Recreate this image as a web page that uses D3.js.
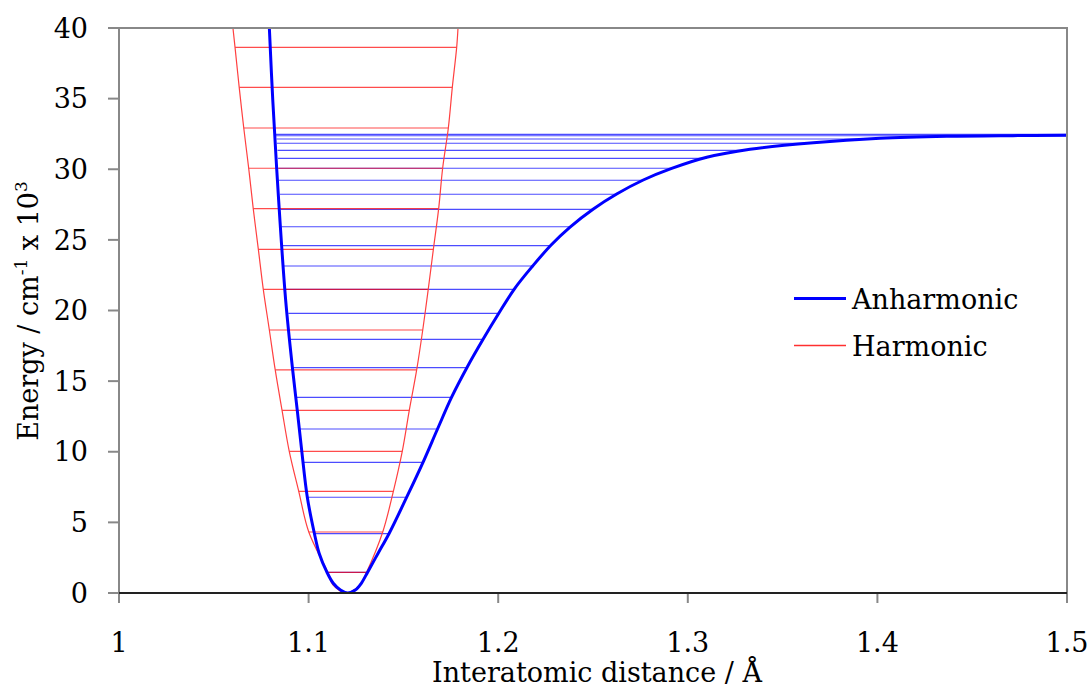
<!DOCTYPE html>
<html>
<head>
<meta charset="utf-8">
<script src="https://cdn.jsdelivr.net/npm/d3@7"></script>
<style>
    body { margin: 0; background: #fff; }
    svg { display: block; font-family: "DejaVu Serif", serif; }
</style>
</head>
<body>
<svg id="chart"></svg>
<script>
// Anharmonic (Morse) potential: distance in Å, energy in 10^3 cm-1
const morseX = [1.0793, 1.0811, 1.0842, 1.0879, 1.0916, 1.0940, 1.0964, 1.0993, 1.1030, 1.1056, 1.1096, 1.1130, 1.1168, 1.1206,
    1.1246, 1.1278, 1.1312, 1.1366, 1.1426, 1.1518, 1.1604, 1.1680, 1.1755, 1.1834, 1.1921, 1.2004, 1.2085, 1.2182,
    1.2279, 1.2379, 1.2502, 1.2625, 1.2765, 1.2915, 1.3100, 1.3328, 1.3662, 1.4014, 1.4366, 1.4715, 1.5];
const morseE = [40.0, 34.90, 27.82, 20.74, 15.79, 12.96, 10.05, 6.80, 4.25, 2.80, 1.49, 0.69, 0.21, 0,
    0.21, 0.69, 1.49, 2.80, 4.25, 6.80, 9.27, 11.61, 13.88, 15.93, 17.98, 19.82, 21.52, 23.15,
    24.64, 25.91, 27.19, 28.25, 29.24, 30.06, 30.85, 31.42, 31.88, 32.19, 32.33, 32.38, 32.40];

// Harmonic parabola
const harmX = [1.0601, 1.0612, 1.0634, 1.0658, 1.0684, 1.0708, 1.0735, 1.0761, 1.0793, 1.0824, 1.0860, 1.0898,
    1.0948, 1.1001, 1.1101, 1.1127, 1.1200, 1.1273, 1.1306, 1.1391, 1.1447, 1.1494, 1.1531, 1.1570,
    1.1602, 1.1631, 1.1658, 1.1686, 1.1707, 1.1737, 1.1758, 1.1781, 1.1788];
const harmE = [40.0, 38.63, 35.80, 32.92, 30.07, 27.21, 24.33, 21.50, 18.62, 15.79, 12.93, 10.03,
    7.20, 4.32, 1.466, 0.6, 0, 0.6, 1.466, 4.32, 7.20, 10.03, 12.93, 15.79,
    18.62, 21.50, 24.33, 27.21, 30.07, 32.92, 35.80, 38.63, 40.0];

// Vibrational levels of the anharmonic oscillator (energy, left end, right end)
const anhLevels = [1.466, 4.20, 6.78, 9.25, 11.61, 13.85, 15.95, 17.96, 19.80, 21.50, 23.15, 24.59,
    25.93, 27.16, 28.23, 29.22, 30.07, 30.77, 31.34, 31.84, 32.14, 32.37, 32.47];
const anhLeft = [1.1096, 1.1030, 1.0993, 1.0967, 1.0951, 1.0932, 1.0916, 1.0902, 1.0893, 1.0878, 1.0870, 1.0862,
    1.0857, 1.0852, 1.0849, 1.0844, 1.0841, 1.0839, 1.0836, 1.0833, 1.0831, 1.0828, 1.0828];
const anhRight = [1.1310, 1.1424, 1.1516, 1.1602, 1.1679, 1.1755, 1.1834, 1.1921, 1.2004, 1.2085, 1.2182, 1.2278,
    1.2379, 1.2502, 1.2625, 1.2765, 1.2915, 1.3100, 1.3302, 1.3608, 1.3945, 1.5, 1.5];

// Levels of the harmonic oscillator
const harmLevels = [1.466, 4.32, 7.20, 10.03, 12.93, 15.79, 18.62, 21.50, 24.33, 27.21, 30.07, 32.92, 35.80, 38.63];
const harmLeft = [1.1101, 1.1001, 1.0948, 1.0898, 1.0860, 1.0824, 1.0793, 1.0761, 1.0735, 1.0708, 1.0684, 1.0658, 1.0634, 1.0612];
const harmRight = [1.1306, 1.1391, 1.1447, 1.1494, 1.1531, 1.1570, 1.1602, 1.1631, 1.1658, 1.1686, 1.1707, 1.1737, 1.1758, 1.1781];

const xTicks = [1, 1.1, 1.2, 1.3, 1.4, 1.5];
const yTicks = [0, 5, 10, 15, 20, 25, 30, 35, 40];

const width = 1088, height = 689;
const margin = { top: 28, right: 21, bottom: 96, left: 119 };

const svg = d3.select('#chart')
    .attr('width', width)
    .attr('height', height);

const x = d3.scaleLinear().domain([1, 1.5]).range([margin.left, width - margin.right]);
const y = d3.scaleLinear().domain([0, 40]).range([height - margin.bottom, margin.top]);

// Clip everything to the plot area
svg.append('defs').append('clipPath').attr('id', 'plot-clip')
    .append('rect')
    .attr('x', x(1)).attr('y', y(40))
    .attr('width', x(1.5) - x(1)).attr('height', y(0) - y(40));

const plot = svg.append('g').attr('clip-path', 'url(#plot-clip)');

// Anharmonic levels
plot.append('g')
    .selectAll('line')
    .data(anhLevels)
    .enter().append('line')
    .attr('x1', (d, i) => x(anhLeft[i]))
    .attr('x2', (d, i) => x(anhRight[i]))
    .attr('y1', d => y(d))
    .attr('y2', d => y(d))
    .attr('stroke', '#0000ff')
    .attr('stroke-opacity', 0.7)
    .attr('stroke-width', 1.2);

// Harmonic levels
plot.append('g')
    .selectAll('line')
    .data(harmLevels)
    .enter().append('line')
    .attr('x1', (d, i) => x(harmLeft[i]))
    .attr('x2', (d, i) => x(harmRight[i]))
    .attr('y1', d => y(d))
    .attr('y2', d => y(d))
    .attr('stroke', '#ff0000')
    .attr('stroke-opacity', 0.7)
    .attr('stroke-width', 1.2);

const line = d3.line()
    .x(d => x(d[0]))
    .y(d => y(d[1]))
    .curve(d3.curveCatmullRom.alpha(0.5));

// Harmonic parabola
plot.append('path')
    .datum(d3.zip(harmX, harmE))
    .attr('d', line)
    .attr('fill', 'none')
    .attr('stroke', '#ff4040')
    .attr('stroke-width', 1.2);

// Morse curve
plot.append('path')
    .datum(d3.zip(morseX, morseE))
    .attr('d', line)
    .attr('fill', 'none')
    .attr('stroke', '#0000ff')
    .attr('stroke-width', 3);

// Plot frame (top, right, left in grey)
svg.append('path')
    .attr('d', `M${x(1)},${y(0)}V${y(40)}H${x(1.5)}V${y(0)}`)
    .attr('fill', 'none')
    .attr('stroke', '#888')
    .attr('stroke-width', 2);

// Y axis ticks and labels
const yAxis = svg.append('g');
yAxis.selectAll('line')
    .data(yTicks)
    .enter().append('line')
    .attr('x1', x(1) - 11).attr('x2', x(1))
    .attr('y1', d => y(d)).attr('y2', d => y(d))
    .attr('stroke', '#888').attr('stroke-width', 2);
yAxis.selectAll('text')
    .data(yTicks)
    .enter().append('text')
    .attr('x', 88)
    .attr('y', d => y(d))
    .attr('dy', '0.36em')
    .attr('text-anchor', 'end')
    .attr('font-size', 27)
    .text(d => d);

// X axis: black line at zero, grey ticks
const xAxis = svg.append('g');
xAxis.selectAll('line')
    .data(xTicks)
    .enter().append('line')
    .attr('x1', d => x(d)).attr('x2', d => x(d))
    .attr('y1', y(0)).attr('y2', y(0) + 10)
    .attr('stroke', '#888').attr('stroke-width', 2);
xAxis.append('line')
    .attr('x1', x(1)).attr('x2', x(1.5))
    .attr('y1', y(0)).attr('y2', y(0))
    .attr('stroke', '#222').attr('stroke-width', 2);
xAxis.selectAll('text')
    .data(xTicks)
    .enter().append('text')
    .attr('x', d => x(d))
    .attr('y', 652)
    .attr('text-anchor', 'middle')
    .attr('font-size', 27)
    .text(d => d);

// Axis titles
svg.append('text')
    .attr('x', 597)
    .attr('y', 682)
    .attr('text-anchor', 'middle')
    .attr('font-size', 27)
    .text('Interatomic distance / Å');

const yTitle = svg.append('text')
    .attr('transform', 'translate(38,311) rotate(-90)')
    .attr('text-anchor', 'middle')
    .attr('font-size', 27);
yTitle.append('tspan').text('Energy / cm');
yTitle.append('tspan').attr('font-size', 17).attr('dy', -11).text('-1');
yTitle.append('tspan').attr('dy', 11).text(' x 10');
yTitle.append('tspan').attr('font-size', 17).attr('dy', -11).text('3');

// Legend
const legend = svg.append('g');
const legendItems = [
    { name: 'Anharmonic', color: '#0000ff', w: 3, ly: 298.5, ty: 309 },
    { name: 'Harmonic', color: '#ff3030', w: 1.5, ly: 345.5, ty: 356 }
];
legend.selectAll('line')
    .data(legendItems)
    .enter().append('line')
    .attr('x1', 794).attr('x2', 846)
    .attr('y1', d => d.ly).attr('y2', d => d.ly)
    .attr('stroke', d => d.color)
    .attr('stroke-width', d => d.w);
legend.selectAll('text')
    .data(legendItems)
    .enter().append('text')
    .attr('x', 852)
    .attr('y', d => d.ty)
    .attr('font-size', 27)
    .text(d => d.name);
</script>
</body>
</html>
